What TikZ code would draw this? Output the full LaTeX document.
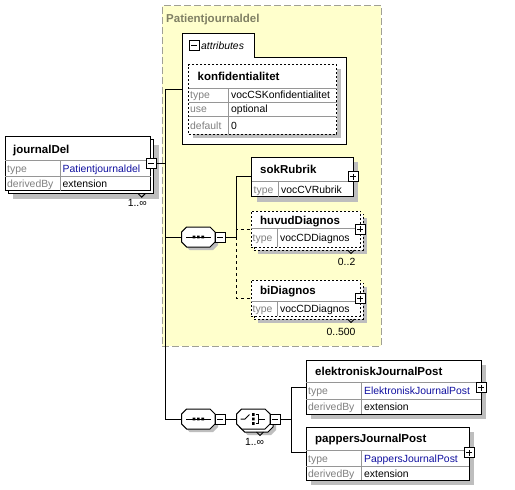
\documentclass[tikz,border=0pt]{standalone}
\usepackage{fontspec}
\setmainfont{Liberation Sans}
\definecolor{yel}{RGB}{255,255,204}
\definecolor{yborder}{RGB}{160,160,150}
\definecolor{ytitle}{RGB}{128,128,100}
\definecolor{shad}{RGB}{190,190,190}
\definecolor{lbl}{RGB}{128,128,128}
\definecolor{sepc}{RGB}{150,150,150}
\definecolor{tblue}{RGB}{16,16,160}
\newcommand\octp[2]{(#1-11.65,#2-10) -- (#1+11.65,#2-10) -- (#1+16.65,#2-5) -- (#1+16.65,#2+5) -- (#1+11.65,#2+10) -- (#1-11.65,#2+10) -- (#1-16.65,#2+5) -- (#1-16.65,#2-5) -- cycle}
\tikzset{
  bx/.style={draw=black, fill=white, line width=1pt, anchor=north west, inner sep=0, outer sep=0},
  dbx/.style={bx, dash pattern=on 2pt off 2pt},
  shd/.style={fill=shad, draw=none, anchor=north west, inner sep=0, outer sep=0},
  ttl/.style={font=\fontsize{11.5}{13}\bfseries, anchor=base west, inner sep=0},
  lb/.style={font=\fontsize{10.4}{12}\selectfont, text=lbl, anchor=base west, inner sep=0},
  vl/.style={font=\fontsize{10.4}{12}\selectfont, anchor=base west, inner sep=0},
  sepl/.style={draw=sepc, line width=0.8pt},
  conn/.style={draw=black, line width=1pt},
  dconn/.style={conn, dash pattern=on 3pt off 3pt},
  octn/.style={minimum width=33.3pt, minimum height=20pt, inner sep=0, outer sep=0},
  minusbox/.style={draw, fill=white, minimum size=10pt, inner sep=0, outer sep=0, line width=1pt,
    path picture={\draw[line width=1pt] ([xshift=2pt]path picture bounding box.west) -- ([xshift=-2pt]path picture bounding box.east);}},
  plusbox/.style={draw, fill=white, minimum size=10pt, inner sep=0, outer sep=0, line width=1pt,
    path picture={\draw[line width=1pt] ([xshift=2pt]path picture bounding box.west) -- ([xshift=-2pt]path picture bounding box.east)
      ([yshift=-2pt]path picture bounding box.north) -- ([yshift=2pt]path picture bounding box.south);}},
}
\begin{document}
\begin{tikzpicture}[x=1pt,y=-1pt]
\useasboundingbox (0,0) rectangle (515,490);
\fill[white] (0,0) rectangle (515,490);

% group box
\node[draw=yborder, fill=yel, dash pattern=on 7pt off 3pt, line width=1pt, minimum width=219pt, minimum height=340.5pt, anchor=north west, inner sep=0] (pj) at (161.5,5) {};
\node[ttl, text=ytitle] (pjt) at (166,22) {Patientjournaldel};

% connector points
\coordinate (tA) at (165.5,89);
\coordinate (tB) at (165.5,419);
\coordinate (attrw) at (182,89);
\coordinate (cs1) at (236.7,237);
\coordinate (cs2) at (291.7,419);

% attributes box
\draw[fill=white, line width=1pt] (182,144) -- (182,33) -- (254,33) -- (254,57) -- (346,57) -- (346,144) -- cycle;
\node[minusbox] (atm) at (194,45.5) {};
\node[vl, font=\fontsize{10.4}{12}\itshape] (att) at (201,49.3) {attributes};

% konfidentialitet
\node[shd, minimum width=148pt, minimum height=69.5pt] at (192.5,68.5) {};
\node[dbx, minimum width=148pt, minimum height=69.5pt] (kf) at (188.5,64.5) {};
\draw[sepl] (188.5,88) -- (336.5,88) (188.5,102) -- (336.5,102) (188.5,116) -- (336.5,116) (228.3,88) -- (228.3,134);
\node[ttl] at (197.5,80.8) {konfidentialitet};
\node[lb] at (190,98.8) {type};
\node[vl] at (231,98.8) {vocCSKonfidentialitet};
\node[lb] at (190,112.8) {use};
\node[vl] at (231,112.8) {optional};
\node[lb] at (190,129) {default};
\node[vl] at (231,129) {0};

% journalDel
\node[shd, minimum width=145.5pt, minimum height=54pt] at (13,144.7) {};
\node[bx, minimum width=145.5pt, minimum height=54pt] (jdb) at (8,139.7) {};
\node[bx, minimum width=145.5pt, minimum height=54pt] (jd) at (5,136.7) {};
\draw[line width=1pt] (138.2,193.7) -- (141.7,197.2) -- (145.2,193.7);
\draw[sepl] (5,160.7) -- (150.5,160.7) (5,176) -- (150.5,176) (60,160.7) -- (60,190.7);
\node[ttl] at (13,153.1) {journalDel};
\node[lb] at (7,172.1) {type};
\node[vl, text=tblue] at (62.5,172.1) {Patientjournaldel};
\node[lb] at (7,187.1) {derivedBy};
\node[vl] at (62.5,187.1) {extension};
\node[vl, anchor=base east] at (147,206.7) {1..∞};
\node[minusbox] (jdm) at (151.3,163.5) {};

% sequence 1
\fill[shad] \octp{201.35}{240};
\node[octn] (s1) at (198.35,237) {};
\draw[fill=white, line width=1pt] \octp{198.35}{237};
\draw[line width=1pt] (186,237) -- (210.7,237);
\fill (192.7,235.7) rectangle ++(2.6,2.6) (197.05,235.7) rectangle ++(2.6,2.6) (201.4,235.7) rectangle ++(2.6,2.6);
\node[minusbox] (s1m) at (220.4,237) {};

% sequence 2
\fill[shad] \octp{201.35}{422};
\node[octn] (s2) at (198.35,419) {};
\draw[fill=white, line width=1pt] \octp{198.35}{419};
\draw[line width=1pt] (186,419) -- (210.7,419);
\fill (192.7,417.7) rectangle ++(2.6,2.6) (197.05,417.7) rectangle ++(2.6,2.6) (201.4,417.7) rectangle ++(2.6,2.6);
\node[minusbox] (s2m) at (220.4,419) {};

% choice
\fill[shad] \octp{259.35}{425};
\draw[fill=white, line width=1pt] \octp{256.35}{422};
\draw[line width=1pt] (256.5,432) -- (260,435.5) -- (263.5,432);
\node[octn] (ch) at (253.35,419) {};
\draw[fill=white, line width=1pt] \octp{253.35}{419};
\draw[line width=1pt] (240.5,419) -- (245,419) -- (249.5,414.5);
\fill (252.1,413.2) rectangle ++(2.6,2.6) (252.1,417.7) rectangle ++(2.6,2.6) (252.1,422.2) rectangle ++(2.6,2.6);
\draw[line width=1pt] (255.5,414.5) -- (258.2,414.5) -- (258.2,423.5) -- (255.5,423.5) (258.2,419) -- (265,419);
\node[minusbox] (chm) at (275.3,419) {};
\node[vl, anchor=base] at (254.5,445.7) {1..∞};

% sokRubrik
\node[shd, minimum width=101.6pt, minimum height=39.4pt] at (256.7,162.3) {};
\node[bx, minimum width=101.6pt, minimum height=39.4pt] (sok) at (251.7,157.3) {};
\draw[sepl] (251.7,181.7) -- (353.3,181.7) (278.3,181.7) -- (278.3,196.7);
\node[ttl] at (260,173.4) {sokRubrik};
\node[lb] at (253.5,193) {type};
\node[vl] at (281,193) {vocCVRubrik};
\node[plusbox] (sokp) at (353.3,176.5) {};

% huvudDiagnos
\node[shd, minimum width=109.3pt, minimum height=36pt] at (258,217.5) {};
\node[dbx, minimum width=109.3pt, minimum height=36pt] (hdb) at (254,214) {};
\node[dbx, minimum width=109.3pt, minimum height=36pt] (hd) at (251,211) {};
\draw[line width=1pt] (347.5,250) -- (351,253.5) -- (354.5,250);
\draw[sepl] (251,228.5) -- (360.3,228.5) (277,228.5) -- (277,247);
\node[ttl] at (260,224.8) {huvudDiagnos};
\node[lb] at (252.5,241.6) {type};
\node[vl] at (280,241.6) {vocCDDiagnos};
\node[plusbox] (hdp) at (360.3,229) {};
\node[vl, anchor=base east] at (355.5,265.8) {0..2};

% biDiagnos
\node[shd, minimum width=109.3pt, minimum height=36pt] at (258,286.5) {};
\node[dbx, minimum width=109.3pt, minimum height=36pt] (bdb) at (254,283) {};
\node[dbx, minimum width=109.3pt, minimum height=36pt] (bd) at (251,280) {};
\draw[line width=1pt] (347.5,319) -- (351,322.5) -- (354.5,319);
\draw[sepl] (251,301.7) -- (360.3,301.7) (277,301.7) -- (277,316);
\node[ttl] at (260,294.1) {biDiagnos};
\node[lb] at (252.5,312.8) {type};
\node[vl] at (280,312.8) {vocCDDiagnos};
\node[plusbox] (bdp) at (360.3,298.5) {};
\node[vl, anchor=base east] at (355.7,335.3) {0..500};

% elektroniskJournalPost
\node[shd, minimum width=174.7pt, minimum height=54.3pt] at (311.3,365) {};
\node[bx, minimum width=174.7pt, minimum height=54.3pt] (ej) at (306.3,360) {};
\draw[sepl] (306.3,382.5) -- (481,382.5) (306.3,399.3) -- (481,399.3) (361,382.5) -- (361,414.3);
\node[ttl] at (315,375.6) {elektroniskJournalPost};
\node[lb] at (308,394.8) {type};
\node[vl, text=tblue] at (364,394.8) {ElektroniskJournalPost};
\node[lb] at (308,410.8) {derivedBy};
\node[vl] at (364,410.8) {extension};
\node[plusbox] (ejm) at (481,387.5) {};

% pappersJournalPost
\node[shd, minimum width=163pt, minimum height=53pt] at (311.3,432) {};
\node[bx, minimum width=163pt, minimum height=53pt] (pp) at (306.3,427) {};
\draw[sepl] (306.3,450) -- (469.3,450) (306.3,466) -- (469.3,466) (361,450) -- (361,480);
\node[ttl] at (315,442.6) {pappersJournalPost};
\node[lb] at (308,462.8) {type};
\node[vl, text=tblue] at (364,462.8) {PappersJournalPost};
\node[lb] at (308,477.1) {derivedBy};
\node[vl] at (364,477.1) {extension};
\node[plusbox] (ppm) at (469.3,452.5) {};

% connectors
\draw[conn] (attrw) -- (tA) -- (tB) -- (s2.west);
\draw[conn] (jdm.east) -- (jdm.east -| tA);
\draw[conn] (s1.west -| tA) -- (s1.west);
\draw[conn] (s1m.east) -- (cs1);
\draw[conn] (cs1) |- (sok.west |- sokp);
\draw[dconn] (cs1) |- (hd.west |- hdp);
\draw[dconn] (cs1) |- (bd.west |- bdp);
\draw[conn] (s2m.east) -- (ch.west);
\draw[conn] (chm.east) -- (cs2);
\draw[conn] (cs2) |- (ej.west |- ejm);
\draw[conn] (cs2) |- (pp.west |- ppm);
\end{tikzpicture}
\end{document}
